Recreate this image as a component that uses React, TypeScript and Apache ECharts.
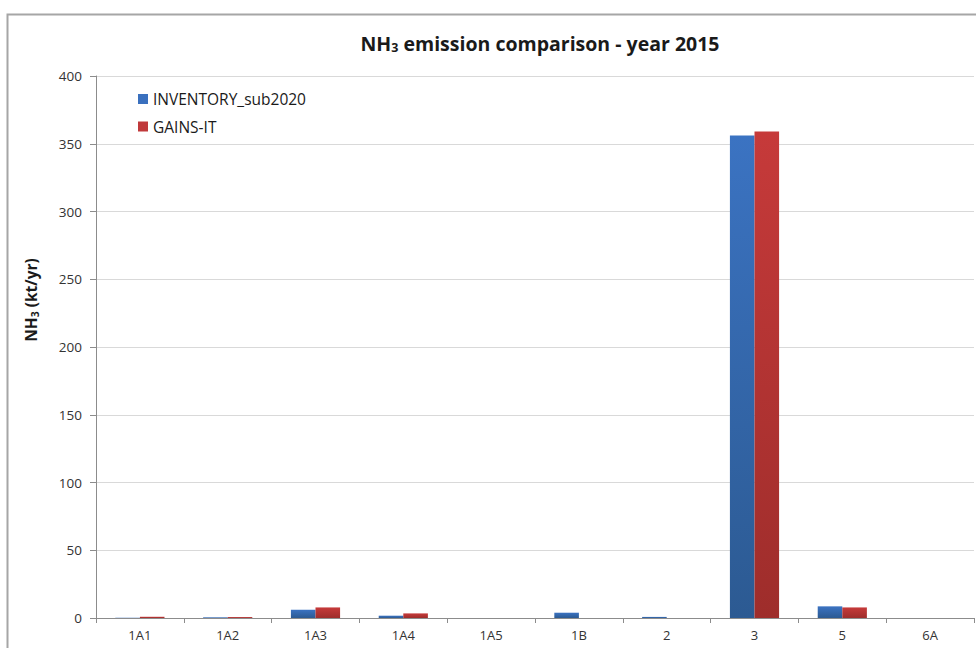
import React, { useEffect, useRef } from "react";
import * as echarts from "echarts";

const categories = ["1A1", "1A2", "1A3", "1A4", "1A5", "1B", "2", "3", "5", "6A"];
const inventory = [0.1, 0.5, 6.1, 1.7, 0, 3.9, 0.8, 356.1, 8.6, 0];
const gains = [0.9, 0.7, 7.8, 3.4, 0, 0, 0, 359.1, 7.8, 0];
const yTicks = { min: 0, max: 400, interval: 50 };

const FONT = "'Open Sans', 'Noto Sans', sans-serif";

export default function App() {
  const ref = useRef<HTMLDivElement>(null);
  useEffect(() => {
    const chart = echarts.init(ref.current!, null, { renderer: "svg" });
    const blueGrad = new echarts.graphic.LinearGradient(0, 0, 0, 1, [
      { offset: 0, color: "#3B73C2" },
      { offset: 1, color: "#2C5A92" },
    ]);
    const redGrad = new echarts.graphic.LinearGradient(0, 0, 0, 1, [
      { offset: 0, color: "#C63A3A" },
      { offset: 1, color: "#9E2D2B" },
    ]);
    chart.setOption({
      animation: false,
      backgroundColor: "#ffffff",
      textStyle: { fontFamily: FONT },
      title: {
        text: "NH{sub|3} emission comparison - year 2015",
        left: 535,
        textAlign: "center",
        top: 27,
        textStyle: {
          fontFamily: FONT,
          fontSize: 19.5,
          fontWeight: "bold",
          color: "#1a1a1a",
          rich: {
            sub: {
              fontSize: 12.5,
              fontWeight: "bold",
              fontFamily: FONT,
              color: "#1a1a1a",
              verticalAlign: "bottom",
              padding: [9, 0, 0, 0],
            },
          },
        },
      },
      legend: {
        orient: "vertical",
        left: 138,
        top: 91,
        padding: 0,
        itemWidth: 10,
        itemHeight: 10,
        itemGap: 11.5,
        icon: "rect",
        textStyle: { fontFamily: FONT, fontSize: 15.5, color: "#1a1a1a" },
        data: [
          { name: "INVENTORY_sub2020", itemStyle: { color: "#3A70BE" } },
          { name: "GAINS-IT", itemStyle: { color: "#C0393B" } },
        ],
      },
      grid: { left: 96, right: 2, top: 76, bottom: 30, containLabel: false },
      xAxis: {
        type: "category",
        data: categories,
        axisLine: { lineStyle: { color: "#8c8c8c" } },
        axisTick: { show: true, alignWithLabel: false, length: 5, lineStyle: { color: "#8c8c8c" } },
        axisLabel: { color: "#333", fontSize: 13, fontFamily: FONT, margin: 10 },
      },
      yAxis: {
        type: "value",
        min: yTicks.min,
        max: yTicks.max,
        interval: yTicks.interval,
        axisLine: { show: true, lineStyle: { color: "#8c8c8c" } },
        axisTick: { show: true, length: 6, lineStyle: { color: "#8c8c8c" } },
        axisLabel: { color: "#333", fontSize: 13.5, fontFamily: FONT, margin: 14 },
        splitLine: { lineStyle: { color: "#d9d9d9" } },
      },
      graphic: [
        {
          type: "rect",
          shape: { x: 7.5, y: 14.5, width: 1000, height: 700 },
          style: { fill: "none", stroke: "#a6a6a6", lineWidth: 2 },
          silent: true,
        },
        {
          type: "text",
          x: 31,
          y: 300,
          rotation: Math.PI / 2,
          style: {
            text: "NH{sub|3} (kt/yr)",
            fontFamily: FONT,
            fontSize: 15.5,
            fontWeight: "bold",
            fill: "#1a1a1a",
            align: "center",
            verticalAlign: "middle",
            rich: {
              sub: { fontSize: 10.5, fontWeight: "bold", fontFamily: FONT, fill: "#1a1a1a", padding: [7, 0, 0, 0] },
            },
          },
        },
      ],
      series: [
        {
          name: "INVENTORY_sub2020",
          type: "bar",
          data: inventory,
          barGap: "0%",
          barCategoryGap: "44%",
          itemStyle: { color: blueGrad },
        },
        {
          name: "GAINS-IT",
          type: "bar",
          data: gains,
          barGap: "0%",
          barCategoryGap: "44%",
          itemStyle: { color: redGrad },
        },
      ],
    });
    return () => chart.dispose();
  }, []);
  return (
    <div
      ref={ref}
      style={{ position: "fixed", left: 0, top: 0, width: 976, height: 648 }}
    />
  );
}
